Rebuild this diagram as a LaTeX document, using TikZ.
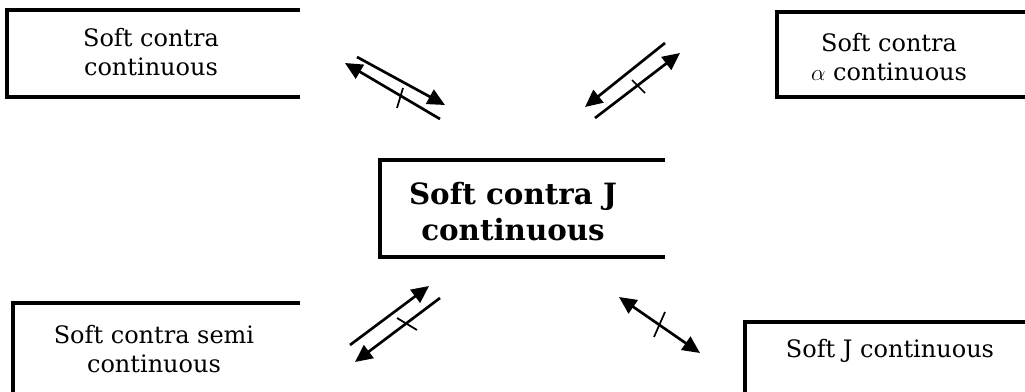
\documentclass[tikz,border=0pt]{standalone}
\usepackage{fontspec}
\setmainfont{DejaVu Serif}
\usetikzlibrary{arrows.meta}
\begin{document}
\begin{tikzpicture}[x=0.75pt,y=-0.75pt,
  boxarea/.style={draw=none, rectangle, inner sep=0pt},
  frame/.style={line width=2.8pt, line join=miter},
  lbl/.style={align=center, font=\fontsize{18}{22}\selectfont, inner sep=0pt},
  blbl/.style={align=center, font=\bfseries\fontsize{22}{27}\selectfont, inner sep=0pt},
  tip/.style={},
  conn/.style={line width=2pt, -{Triangle[length=13pt,width=12pt]}},
  dconn/.style={line width=2pt, {Triangle[length=13pt,width=12pt]}-{Triangle[length=13pt,width=12pt]}},
  tick/.style={line width=1.3pt}]
\useasboundingbox (0,0) rectangle (1025,392);
\clip (0,0) rectangle (1025,392);
\fill[white] (0,0) rectangle (1025,392);
% box areas
\node[boxarea, minimum width=293*0.75pt, minimum height=87*0.75pt] (tlbox) at (153.5,53.5) {};
\node[boxarea, minimum width=263*0.75pt, minimum height=85*0.75pt] (trbox) at (908.5,54.5) {};
\node[boxarea, minimum width=285*0.75pt, minimum height=97*0.75pt] (cbox) at (522.5,208.5) {};
\node[boxarea, minimum width=287*0.75pt, minimum height=107*0.75pt] (blbox) at (156.5,356.5) {};
\node[boxarea, minimum width=295*0.75pt, minimum height=88*0.75pt] (brbox) at (892.5,366) {};
% frames
\draw[frame] (tlbox.north east) -- (tlbox.north west) -- (tlbox.south west) -- (tlbox.south east);
\draw[frame] (trbox.north east) -- (trbox.north west) -- (trbox.south west) -- (trbox.south east);
\draw[frame] (cbox.north east) -- (cbox.north west) -- (cbox.south west) -- (cbox.south east);
\draw[frame] (blbox.north east) -- (blbox.north west) -- (blbox.south west) -- (blbox.south east);
\draw[frame] (brbox.north east) -- (brbox.north west) -- (brbox.south west) -- (brbox.south east);
% texts
\node[lbl] (tltext) at (151,52) {Soft contra\\continuous};
\node[lbl] (trtext) at (889,57) {Soft contra\\$\alpha$ continuous};
\node[blbl] (ctext) at (513,212) {Soft contra J\\continuous};
\node[lbl] (bltext) at (154,349) {Soft contra semi\\continuous};
\node[lbl] (brtext) at (890,351) {Soft J continuous};
% arrow end points
\coordinate (a1s) at (357,57);  \coordinate (a1e) at (445,105);
\coordinate (b1s) at (440,119); \coordinate (b1e) at (345,63);
\coordinate (a2s) at (665,43);  \coordinate (a2e) at (585,107);
\coordinate (b2s) at (595,118); \coordinate (b2e) at (680,53);
\coordinate (a3s) at (350,345); \coordinate (a3e) at (429,286);
\coordinate (b3s) at (440,298); \coordinate (b3e) at (355,362);
\coordinate (a4s) at (619,297); \coordinate (a4e) at (700,353);
% arrows
\draw[conn] (a1s) -- (a1e);
\draw[conn] (b1s) -- (b1e);
\draw[conn] (a2s) -- (a2e);
\draw[conn] (b2s) -- (b2e);
\draw[conn] (a3s) -- (a3e);
\draw[conn] (b3s) -- (b3e);
\draw[dconn] (a4s) -- (a4e);
% negation ticks
\draw[tick] (397,108) -- (403,88);
\draw[tick] (632,80) -- (645,93);
\draw[tick] (397,318) -- (417,330);
\draw[tick] (654,337) -- (665,312);
\end{tikzpicture}
\end{document}
